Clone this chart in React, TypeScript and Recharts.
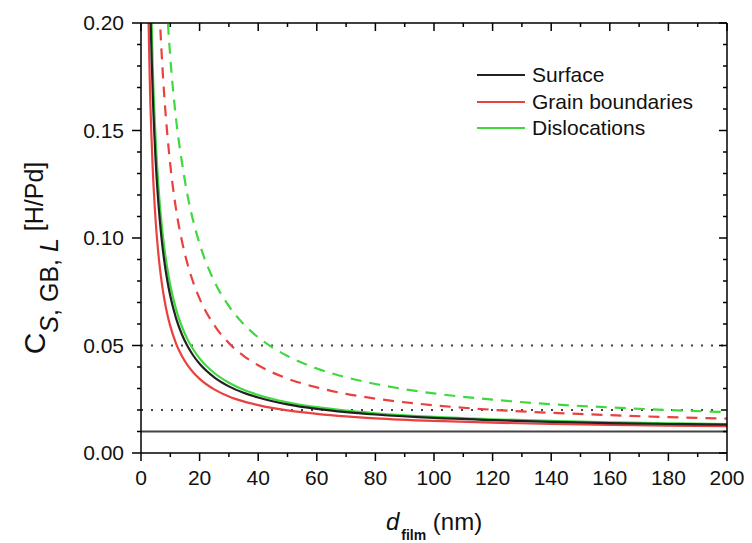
import React from "react";
import { LineChart, Line, XAxis, YAxis, ReferenceLine, Legend } from "recharts";

// film thickness (nm)
const dFilm = [2, 2.5, 3, 4, 5, 6, 7, 8, 9, 10, 12, 14, 16, 18, 20, 25, 30, 35, 40, 50, 60, 70, 80, 100, 120, 140, 160, 180, 200];

// solid curves
const surface = [0.325, 0.262, 0.22, 0.1675, 0.136, 0.115, 0.1, 0.0888, 0.08, 0.073, 0.0625, 0.055, 0.0494, 0.045, 0.0415, 0.0352, 0.031, 0.028, 0.0258, 0.0226, 0.0205, 0.019, 0.0179, 0.0163, 0.0153, 0.0145, 0.0139, 0.0135, 0.0132];
const grainBoundaries = [0.255, 0.206, 0.173, 0.1325, 0.108, 0.0917, 0.08, 0.0713, 0.0644, 0.059, 0.0508, 0.045, 0.0406, 0.0372, 0.0345, 0.0296, 0.0263, 0.024, 0.0223, 0.0198, 0.0182, 0.017, 0.0161, 0.0149, 0.0141, 0.0135, 0.0131, 0.0127, 0.0125];
const dislocations = [0.35, 0.282, 0.237, 0.18, 0.146, 0.123, 0.107, 0.095, 0.0856, 0.078, 0.0667, 0.0586, 0.0525, 0.0478, 0.044, 0.0372, 0.0327, 0.0294, 0.027, 0.0236, 0.0213, 0.0197, 0.0185, 0.0168, 0.0157, 0.0149, 0.0143, 0.0138, 0.0134];

// dashed curves
const grainBoundariesDash = [0.63, 0.506, 0.423, 0.32, 0.258, 0.216, 0.187, 0.165, 0.148, 0.134, 0.113, 0.0984, 0.0873, 0.0787, 0.0718, 0.0594, 0.0511, 0.0452, 0.0408, 0.0346, 0.0305, 0.0275, 0.0253, 0.0222, 0.0201, 0.0187, 0.0176, 0.0167, 0.016];
const dislocationsDash = [0.88, 0.706, 0.59, 0.445, 0.358, 0.3, 0.259, 0.228, 0.204, 0.184, 0.155, 0.135, 0.119, 0.107, 0.0973, 0.0799, 0.0683, 0.06, 0.0538, 0.0451, 0.0393, 0.0352, 0.0321, 0.0277, 0.0248, 0.0227, 0.0212, 0.02, 0.019];

// reference levels
const bulkLevel = 0.01;
const dottedLevels = [0.02, 0.05];

const xTicks = [0, 10, 20, 30, 40, 50, 60, 70, 80, 90, 100, 110, 120, 130, 140, 150, 160, 170, 180, 190, 200];
const yTicks = [0, 0.01, 0.02, 0.03, 0.04, 0.05, 0.06, 0.07, 0.08, 0.09, 0.1, 0.11, 0.12, 0.13, 0.14, 0.15, 0.16, 0.17, 0.18, 0.19, 0.2];

const legendNames = ["Surface", "Grain boundaries", "Dislocations"];
const legendColors = ["#222222", "#e8413f", "#3fd83f"];

const FONT = "'Liberation Sans', Arial, sans-serif";
const RED = "#e8413f";
const GREEN = "#3fd83f";
const BLACK = "#222222";

const rows = dFilm.map((d, i) => ({
  d,
  surface: surface[i],
  gb: grainBoundaries[i],
  disl: dislocations[i],
  gbDash: grainBoundariesDash[i],
  dislDash: dislocationsDash[i],
}));

const isMajorX = (v: number) => v % 20 === 0;
const isMajorY = (v: number) => Math.round(v * 100) % 5 === 0;

function BottomTick(props: any) {
  const { x, y, payload } = props;
  const major = isMajorX(payload.value);
  return (
    <g>
      <line x1={x} y1={y} x2={x} y2={y + (major ? 8 : 4)} stroke="#000" strokeWidth={1.5} />
      {major && (
        <text x={x} y={y + 32} textAnchor="middle" fontFamily={FONT} fontSize={21} fill="#111">
          {payload.value}
        </text>
      )}
    </g>
  );
}

function TopTick(props: any) {
  const { x, y, payload } = props;
  const major = isMajorX(payload.value);
  return <line x1={x} y1={y} x2={x} y2={y + (major ? 8 : 4)} stroke="#000" strokeWidth={1.5} />;
}

function LeftTick(props: any) {
  const { x, y, payload } = props;
  const major = isMajorY(payload.value);
  return (
    <g>
      <line x1={x} y1={y} x2={x - (major ? 9 : 4)} y2={y} stroke="#000" strokeWidth={1.5} />
      {major && (
        <text x={x - 17} y={y + 7} textAnchor="end" fontFamily={FONT} fontSize={21} fill="#111">
          {payload.value.toFixed(2)}
        </text>
      )}
    </g>
  );
}

function RightTick(props: any) {
  const { x, y, payload } = props;
  const major = isMajorY(payload.value);
  return <line x1={x} y1={y} x2={x - (major ? 8 : 4)} y2={y} stroke="#000" strokeWidth={1.5} />;
}

function YTitle(props: any) {
  const vb = props.viewBox;
  const cx = vb.x + 45;
  const cy = vb.y + vb.height / 2 + 20;
  return (
    <text
      transform={`translate(${cx}, ${cy}) rotate(-90)`}
      textAnchor="middle"
      fontFamily={FONT}
      fontSize={25}
      fill="#111"
    >
      <tspan fontSize={30}>C</tspan>
      <tspan fontStyle="italic" dy={13}>S</tspan>
      <tspan>, GB, </tspan>
      <tspan fontStyle="italic">L</tspan>
      <tspan dy={-15}> [H/Pd]</tspan>
    </text>
  );
}

function XTitle(props: any) {
  const vb = props.viewBox;
  const cx = vb.x + vb.width / 2;
  const y = vb.y + 77;
  return (
    <text x={cx} y={y} textAnchor="middle" fontFamily={FONT} fontSize={24} fill="#111">
      <tspan fontStyle="italic">d</tspan>
      <tspan fontSize={14} fontWeight="bold" dy={10} dx={2}>film</tspan>
      <tspan dy={-10}> (nm)</tspan>
    </text>
  );
}

function LegendBox() {
  return (
    <div style={{ fontFamily: FONT, fontSize: 21, color: "#111" }}>
      {legendNames.map((name, i) => (
        <div key={name} style={{ display: "flex", alignItems: "center", height: 26.5 }}>
          <div style={{ width: 48, height: 2, background: legendColors[i], marginRight: 7 }} />
          <span>{name}</span>
        </div>
      ))}
    </div>
  );
}

export default function App() {
  return (
    <div style={{ position: "absolute", left: 0, top: 0, width: 752, height: 543, background: "#fff" }}>
      <LineChart width={752} height={543} data={rows} margin={{ top: 22, right: 24, bottom: 0, left: 0 }}>
        <XAxis
          xAxisId="bottom"
          dataKey="d"
          type="number"
          domain={[0, 200]}
          ticks={xTicks}
          interval={0}
          allowDataOverflow
          height={90}
          tickSize={0}
          tickMargin={0}
          tickLine={false}
          tick={<BottomTick />}
          axisLine={{ stroke: "#000", strokeWidth: 1.5 }}
          label={<XTitle />}
        />
        <XAxis
          xAxisId="top"
          orientation="top"
          dataKey="d"
          type="number"
          domain={[0, 200]}
          ticks={xTicks}
          interval={0}
          allowDataOverflow
          height={1}
          tickSize={0}
          tickMargin={0}
          tickLine={false}
          tick={<TopTick />}
          axisLine={{ stroke: "#000", strokeWidth: 1.5 }}
        />
        <YAxis
          yAxisId="left"
          type="number"
          domain={[0, 0.2]}
          ticks={yTicks}
          interval={0}
          allowDataOverflow
          width={141}
          tickSize={0}
          tickMargin={0}
          tickLine={false}
          tick={<LeftTick />}
          axisLine={{ stroke: "#000", strokeWidth: 1.5 }}
          label={<YTitle />}
        />
        <YAxis
          yAxisId="right"
          orientation="right"
          type="number"
          domain={[0, 0.2]}
          ticks={yTicks}
          interval={0}
          allowDataOverflow
          width={1}
          tickSize={0}
          tickMargin={0}
          tickLine={false}
          tick={<RightTick />}
          axisLine={{ stroke: "#000", strokeWidth: 1.5 }}
        />
        <ReferenceLine xAxisId="bottom" yAxisId="left" y={bulkLevel} stroke="#444" strokeWidth={2} />
        {dottedLevels.map((lvl) => (
          <ReferenceLine
            key={lvl}
            xAxisId="bottom"
            yAxisId="left"
            y={lvl}
            stroke="#444"
            strokeWidth={2}
            strokeDasharray="2 8"
          />
        ))}
        <Line xAxisId="bottom" yAxisId="left" type="monotone" dataKey="dislDash" stroke={GREEN} strokeWidth={2.2} strokeDasharray="11 8" dot={false} isAnimationActive={false} />
        <Line xAxisId="bottom" yAxisId="left" type="monotone" dataKey="gbDash" stroke={RED} strokeWidth={2.2} strokeDasharray="11 8" dot={false} isAnimationActive={false} />
        <Line xAxisId="bottom" yAxisId="left" type="monotone" dataKey="gb" stroke={RED} strokeWidth={2.2} dot={false} isAnimationActive={false} />
        <Line xAxisId="bottom" yAxisId="left" type="monotone" dataKey="disl" stroke={GREEN} strokeWidth={2.2} dot={false} isAnimationActive={false} />
        <Line xAxisId="bottom" yAxisId="left" type="monotone" dataKey="surface" stroke={BLACK} strokeWidth={2.2} dot={false} isAnimationActive={false} />
        <Legend
          layout="vertical"
          align="center"
          verticalAlign="middle"
          content={<LegendBox />}
          wrapperStyle={{ position: "absolute", left: 477, top: 62, width: 240 }}
        />
      </LineChart>
    </div>
  );
}
